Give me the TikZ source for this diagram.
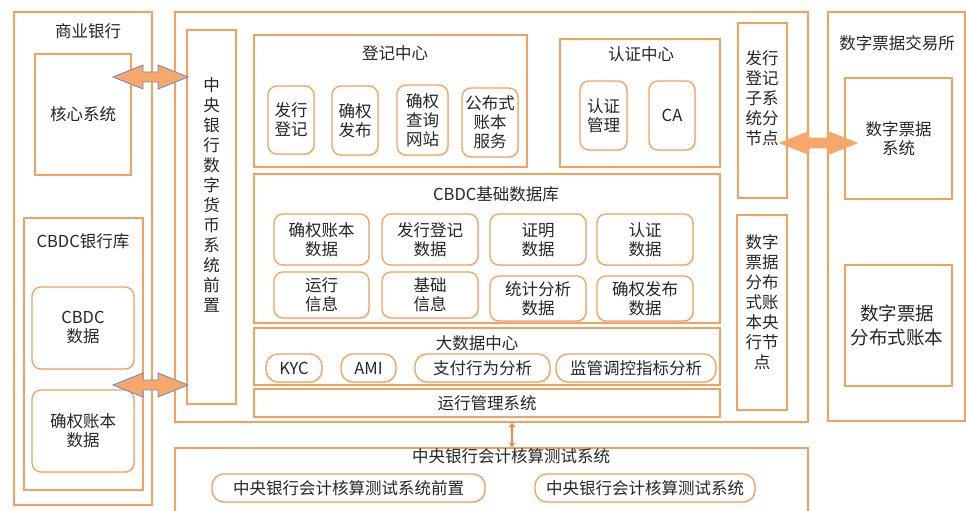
\documentclass[tikz,border=0pt]{standalone}
\usepackage{fontspec}
\setmainfont{Noto Sans CJK SC}
\usetikzlibrary{shadows,arrows.meta}
\definecolor{obord}{HTML}{F5A05F}
\definecolor{afill}{HTML}{F7A76A}
\definecolor{ablue}{HTML}{6C8EC4}
\definecolor{tcol}{HTML}{262626}
\definecolor{darr}{HTML}{F08A3C}
\tikzset{
  sq/.style={draw=obord, line width=1.3pt, fill=white, inner sep=0pt, text=tcol,
    font=\fontsize{16.5}{19}\selectfont, align=center,
    drop shadow={shadow xshift=1.2pt, shadow yshift=-1.2pt, fill=black!15}},
  rd/.style={sq, rounded corners=9pt},
  pill/.style={sq, rounded corners=12pt},
  txt/.style={text=tcol, font=\fontsize{16.5}{19}\selectfont, align=center, inner sep=0pt},
  vtxt/.style={txt, font=\fontsize{16.5}{20}\selectfont},
  fat/.style={fill=afill, draw=ablue, line width=0.9pt, line join=miter},
  fato/.style={fill=afill, draw=afill, line width=0.9pt, line join=miter},
  thinarr/.style={draw=darr, line width=1.6pt, {Stealth[length=5pt,width=7pt]}-{Stealth[length=5pt,width=7pt]}}
}
% #1 style, #2 name, #3 x1, #4 y1, #5 x2, #6 y2, #7 text
\newcommand\bx[7]{\node[#1, minimum width={(#5-#3)*1pt}, minimum height={(#6-#4)*1pt}] (#2) at ({(#3+#5)/2},{(#4+#6)/2}) {#7};}
% #1 style, #2 x1, #3 x2, #4 y, #5 head length, #6 half head, #7 half shaft
\newcommand\fatarr[7]{\path[#1] (#2,#4) -- ({#2+#5},{#4-#6}) -- ({#2+#5},{#4-#7}) -- ({#3-#5},{#4-#7}) -- ({#3-#5},{#4-#6}) -- (#3,#4) -- ({#3-#5},{#4+#6}) -- ({#3-#5},{#4+#7}) -- ({#2+#5},{#4+#7}) -- ({#2+#5},{#4+#6}) -- cycle;}
\begin{document}
\begin{tikzpicture}[x=1pt,y=-1pt]
\useasboundingbox (0,0) rectangle (966,511);
% commercial bank
\bx{sq}{bank}{14}{12}{152}{505}{}
\node[txt] (bankt) at (88,31) {商业银行};
\bx{sq}{core}{35}{54}{131}{175}{核心系统}
\bx{sq}{cbdcbank}{24}{218}{143}{490}{}
\node[txt] (cbdcbankt) at (83,241) {CBDC银行库};
\bx{rd}{cbdcdata}{32}{287}{134}{369}{CBDC\\数据}
\bx{rd}{qqdata}{32}{390}{134}{472}{确权账本\\数据}
% main central bank system
\bx{sq}{main}{175}{12}{808}{422}{}
\bx{sq}{front}{187}{30}{236}{404}{}
\node[vtxt] (frontt) at (211.5,195) {中\\央\\银\\行\\数\\字\\货\\币\\系\\统\\前\\置};
% registration center
\bx{sq}{reg}{254}{35}{527}{167}{}
\node[txt] (regt) at (395,53) {登记中心};
\bx{rd}{r1}{268}{86}{314}{154}{发行\\登记}
\bx{rd}{r2}{332}{86}{378}{155}{确权\\发布}
\bx{rd}{r3}{397}{85}{448}{155}{确权\\查询\\网站}
\bx{rd}{r4}{462}{88}{518}{157}{公布式\\账本\\服务}
% authentication center
\bx{sq}{auth}{560}{39}{720}{167}{}
\node[txt] (autht) at (641,54) {认证中心};
\bx{rd}{a1}{580}{81}{627}{150}{认证\\管理}
\bx{rd}{a2}{649}{81}{695}{150}{CA}
% sub node
\bx{sq}{sub}{738}{23}{787}{198}{}
\node[vtxt] (subt) at (762,98) {发行\\登记\\子系\\统分\\节点};
% CBDC base database
\bx{sq}{db}{254}{174}{720}{323}{}
\node[txt] (dbt) at (496,194) {CBDC基础数据库};
\bx{rd}{d1}{274}{214}{369}{265}{确权账本\\数据}
\bx{rd}{d2}{382}{214}{478}{265}{发行登记\\数据}
\bx{rd}{d3}{490}{214}{586}{265}{证明\\数据}
\bx{rd}{d4}{597}{214}{693}{265}{认证\\数据}
\bx{rd}{d5}{274}{272}{369}{318}{运行\\信息}
\bx{rd}{d6}{382}{272}{478}{318}{基础\\信息}
\bx{rd}{d7}{490}{276}{586}{321}{统计分析\\数据}
\bx{rd}{d8}{597}{276}{693}{321}{确权发布\\数据}
% big data center
\bx{sq}{big}{254}{328}{720}{385}{}
\node[txt] (bigt) at (477,343) {大数据中心};
\bx{pill}{k1}{266}{354}{322}{382}{KYC}
\bx{pill}{k2}{341}{354}{396}{382}{AMI}
\bx{pill}{k3}{415}{354}{550}{382}{支付行为分析}
\bx{pill}{k4}{556}{354}{716}{382}{监管调控指标分析}
\bx{sq}{ops}{254}{389}{720}{417}{运行管理系统}
% ledger node
\bx{sq}{cnode}{737}{215}{787}{410}{}
\node[vtxt] (cnodet) at (762,302) {数字\\票据\\分布\\式账\\本央\\行节\\点};
% exchange
\bx{sq}{exch}{828}{12}{965}{421}{}
\node[txt] (excht) at (897,43) {数字票据交易所};
\bx{sq}{bill}{845}{78}{952}{199}{数字票据\\系统}
\bx{sq}{ledger}{845}{265}{952}{386}{}
\node[txt, font=\fontsize{18.5}{24}\selectfont] (ledgert) at (897,325) {数字票据\\分布式账本};
% accounting test system
\bx{sq}{acct}{175}{448}{808}{540}{}
\node[txt] (acctt) at (511,456) {中央银行会计核算测试系统};
\bx{pill}{t1}{212}{474}{485}{502}{中央银行会计核算测试系统前置}
\bx{pill}{t2}{535}{474}{755}{502}{中央银行会计核算测试系统}
% connectors
\coordinate (vx) at (512,0);
\draw[thinarr] (main.south -| vx) -- (acct.north -| vx);
\fatarr{fat}{113}{188}{77}{30}{12}{5}
\fatarr{fat}{113}{188}{385}{30}{12}{5}
\fatarr{fato}{780}{857}{143}{29}{11.5}{5}
\end{tikzpicture}
\end{document}
